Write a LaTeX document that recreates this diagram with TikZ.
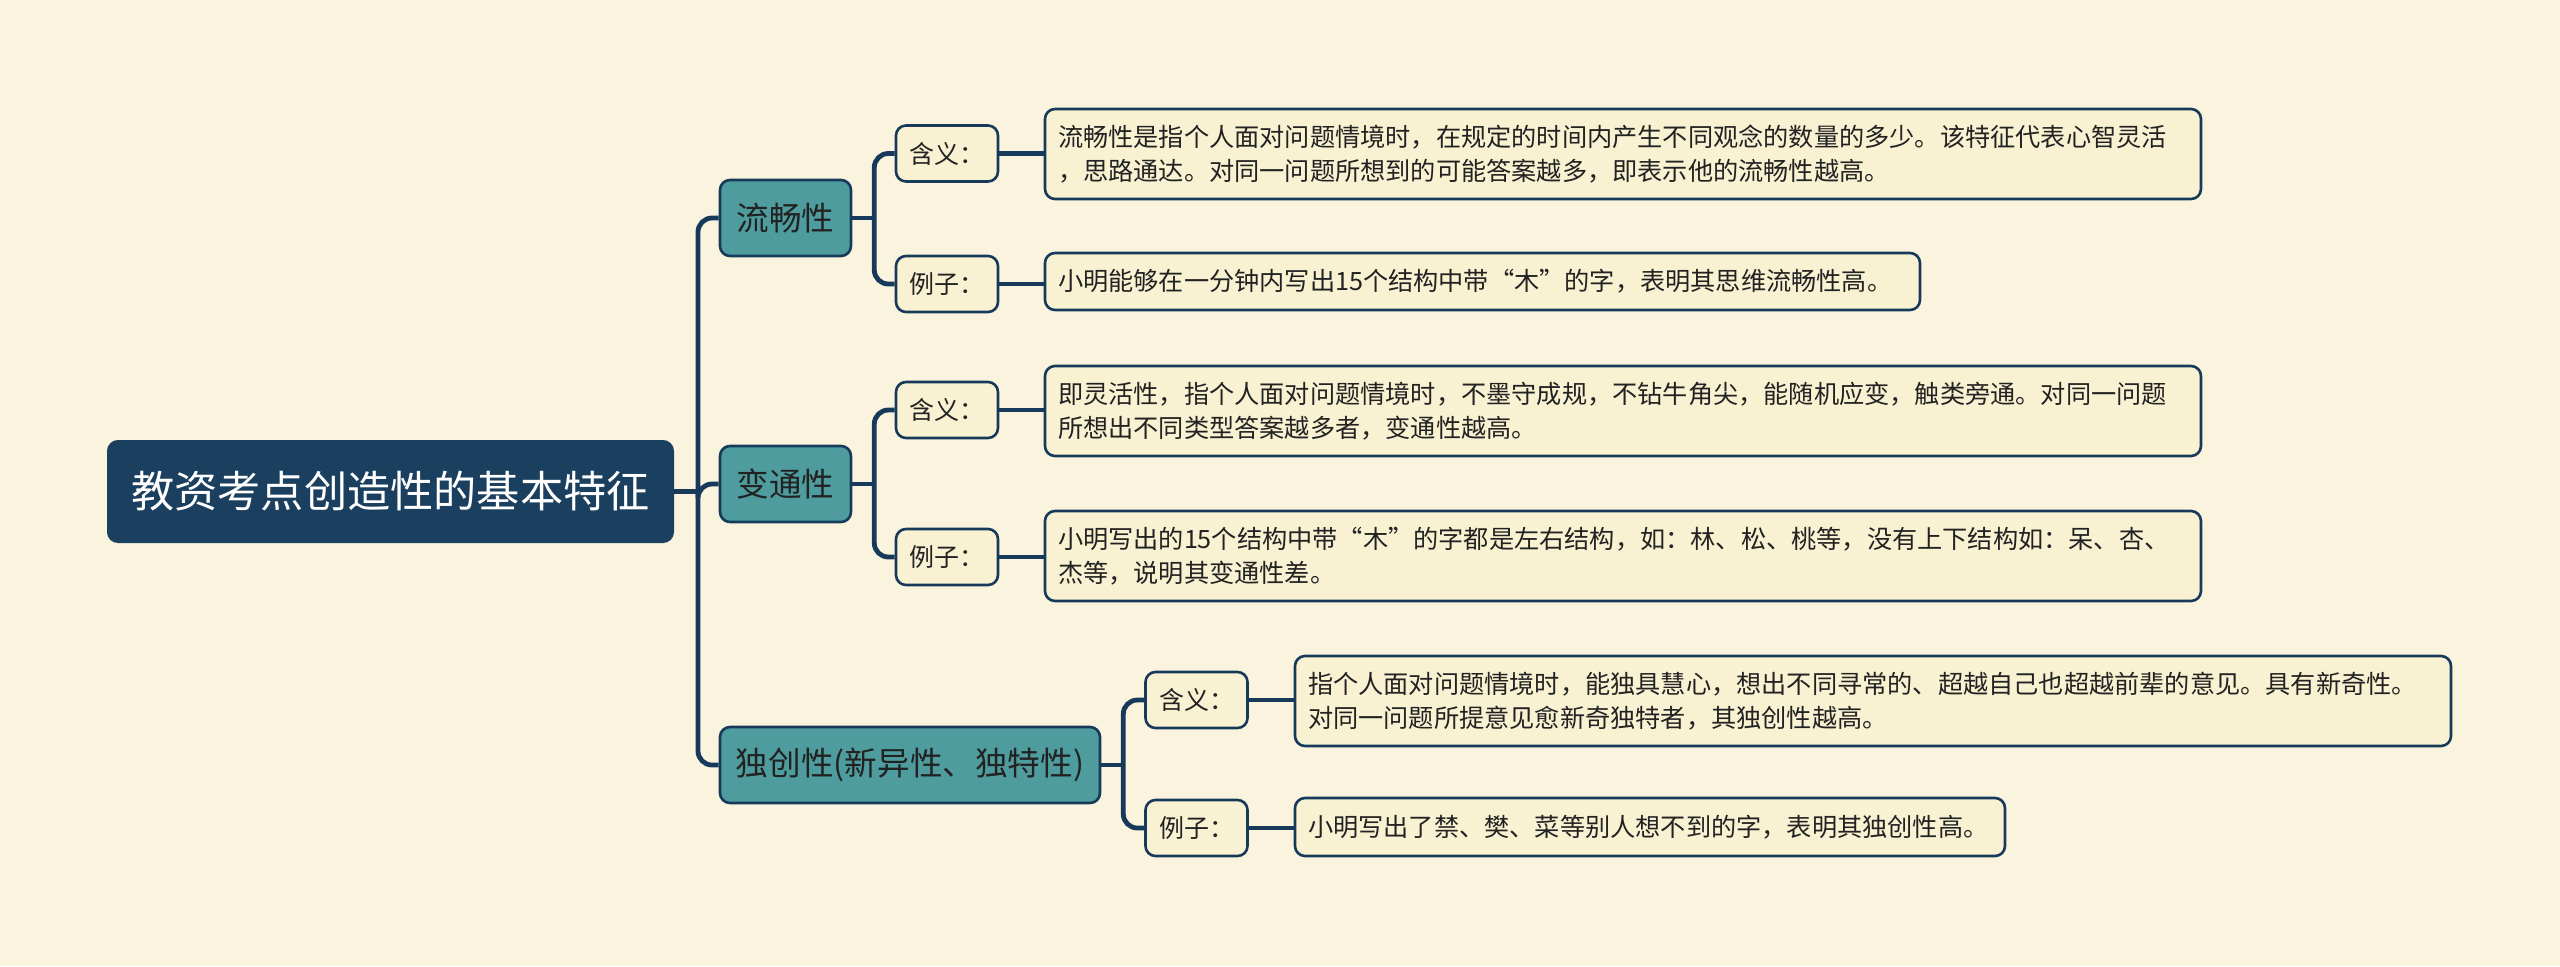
\documentclass[tikz,border=0pt]{standalone}
\usepackage{fontspec}
\setmainfont{Noto Sans CJK SC}
\usetikzlibrary{calc}
\definecolor{bgc}{HTML}{FAF4DF}
\definecolor{rootc}{HTML}{1B3F5E}
\definecolor{tealc}{HTML}{4E9C9E}
\definecolor{leafc}{HTML}{F8F1D2}
\definecolor{linec}{HTML}{173A5A}
\definecolor{textc}{HTML}{222222}
\begin{document}
\begin{tikzpicture}[x=0.5pt,y=-0.5pt,
  rootbox/.style={draw=rootc, line width=1pt, fill=rootc, rounded corners=5pt, text=white,
    font=\fontsize{21.6pt}{26pt}\selectfont, minimum width=282.5pt, minimum height=50.5pt, inner sep=0pt},
  lone/.style={draw=linec, line width=1.3pt, fill=tealc, rounded corners=5pt, text=textc,
    font=\fontsize{16.3pt}{20pt}\selectfont, minimum height=38pt, inner sep=0pt},
  ltwo/.style={draw=linec, line width=1.3pt, fill=leafc, rounded corners=5pt, text=textc,
    font=\fontsize{12.5pt}{17pt}\selectfont, minimum width=51pt, minimum height=28pt, inner sep=0pt},
  leafbox/.style={draw=linec, line width=1.3pt, fill=leafc, rounded corners=5pt, text=textc,
    font=\fontsize{12.6pt}{17pt}\selectfont, align=left, inner xsep=6.5pt, inner ysep=0pt},
  conn/.style={draw=linec, line width=2.4pt, rounded corners=7pt}]
\fill[bgc] (0,0) rectangle (2560,966);
\useasboundingbox (0,0) rectangle (2560,966);

\node[rootbox] (root) at (390.5,491.5) {教资考点创造性的基本特征};

\node[lone, minimum width=65.5pt] (a) at (785.5,218) {流畅性};
\node[lone, minimum width=65.5pt] (b) at (785.5,484) {变通性};
\node[lone, minimum width=190pt] (c) at (910,765) {独创性(新异性、独特性)};

\node[ltwo] (a1) at (947,153.5) {含义：};
\node[ltwo] (a2) at (947,284) {例子：};
\node[ltwo] (b1) at (947,410) {含义：};
\node[ltwo] (b2) at (947,557) {例子：};
\node[ltwo] (c1) at (1196.5,700) {含义：};
\node[ltwo] (c2) at (1196.5,828) {例子：};

\node[leafbox, text width=565pt, minimum height=45pt] (t1) at (1623,154) {流畅性是指个人面对问题情境时，在规定的时间内产生不同观念的数量的多少。该特征代表心智灵活\\，思路通达。对同一问题所想到的可能答案越多，即表示他的流畅性越高。};
\node[leafbox, text width=424.5pt, minimum height=28.5pt] (t2) at (1482.5,281.5) {小明能够在一分钟内写出15个结构中带“木”的字，表明其思维流畅性高。};
\node[leafbox, text width=565pt, minimum height=45pt] (t3) at (1623,411) {即灵活性，指个人面对问题情境时，不墨守成规，不钻牛角尖，能随机应变，触类旁通。对同一问题\\所想出不同类型答案越多者，变通性越高。};
\node[leafbox, text width=565pt, minimum height=45pt] (t4) at (1623,556) {小明写出的15个结构中带“木”的字都是左右结构，如：林、松、桃等，没有上下结构如：呆、杏、\\杰等，说明其变通性差。};
\node[leafbox, text width=565pt, minimum height=45pt] (t5) at (1873,701) {指个人面对问题情境时，能独具慧心，想出不同寻常的、超越自己也超越前辈的意见。具有新奇性。\\对同一问题所提意见愈新奇独特者，其独创性越高。};
\node[leafbox, text width=342pt, minimum height=29pt] (t6) at (1650,827) {小明写出了禁、樊、菜等别人想不到的字，表明其独创性高。};

% root bus
\coordinate (b0) at ([xshift=12pt]root.east);
\draw[conn] (root.east) -- (b0);
\foreach \n in {a,b,c} \draw[conn] (b0) |- (\n.west);

% level-1 buses
\foreach \p/\x/\y in {a/a1/a2, b/b1/b2, c/c1/c2}{
  \coordinate (bb\p) at ([xshift=11pt]\p.east);
  \draw[conn] (\p.east) -- (bb\p);
  \draw[conn] (bb\p) |- (\x.west);
  \draw[conn] (bb\p) |- (\y.west);
}

% level-2 to leaves
\foreach \s/\t in {a1/t1, a2/t2, b1/t3, b2/t4, c1/t5, c2/t6}
  \draw[conn] (\s.east) -- (\s.east -| \t.west);
\end{tikzpicture}
\end{document}
